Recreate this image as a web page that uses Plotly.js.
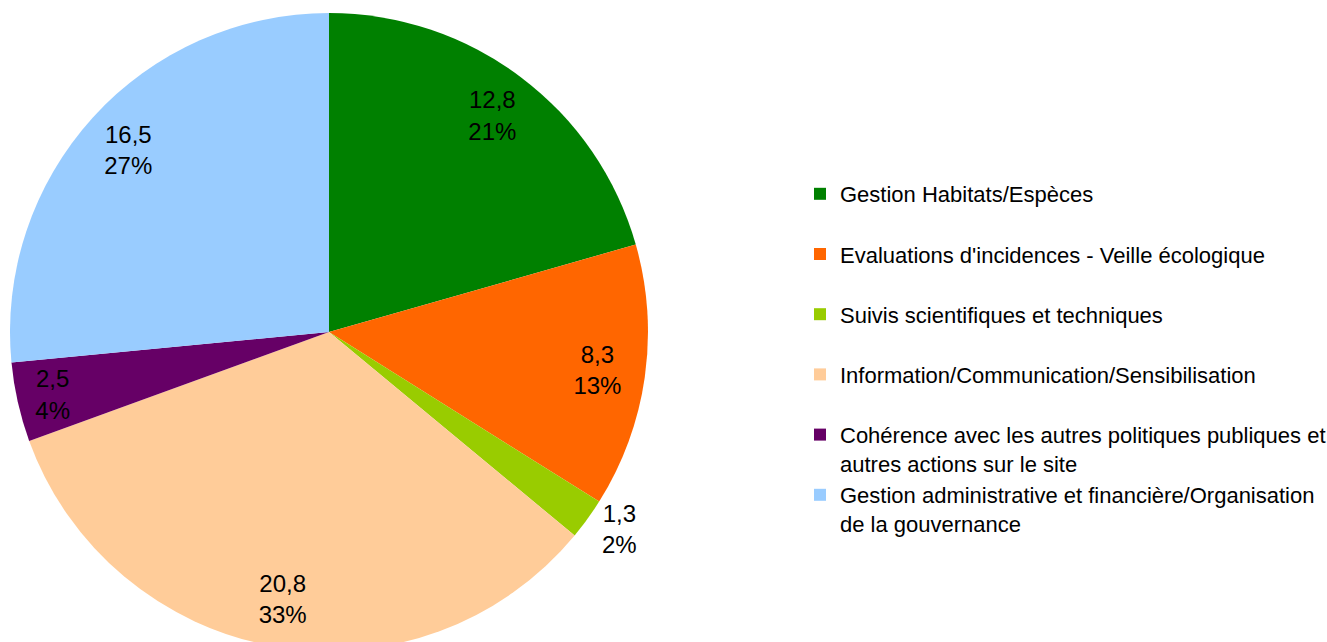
<!DOCTYPE html>
<html>
<head>
<meta charset="utf-8">
<script src="https://cdn.plot.ly/plotly-3.0.1.min.js"></script>
<style>
html,body{margin:0;padding:0;overflow:hidden;background:#fff;}
#chart{width:1327px;height:664px;}
</style>
</head>
<body>
<div id="chart"></div>
<script>
var categories = [
  "Gestion Habitats/Espèces",
  "Evaluations d'incidences - Veille écologique",
  "Suivis scientifiques et techniques",
  "Information/Communication/Sensibilisation",
  "Cohérence avec les autres politiques publiques et<br>autres actions sur le site",
  "Gestion administrative et financière/Organisation<br>de la gouvernance"
];
var values = [12.8, 8.3, 1.3, 20.8, 2.5, 16.5];
var colors = ["#008000", "#FF6600", "#99CC00", "#FFCC99", "#660066", "#99CCFF"];
var textPositions = ["inside", "inside", "outside", "inside", "inside", "inside"];

// legend labels: single-line entries padded to two lines for even spacing
var legendLabels = categories.map(function (c) {
  return c.indexOf("<br>") >= 0 ? c : c + "<br> ";
});

var W = 1327, H = 664;
var domainX = [10 / W, 648 / W];
var domainY = [13 / H, 651 / H];
var FONT = "Liberation Sans, Arial, sans-serif";

var pie = {
  type: "pie",
  labels: legendLabels,
  values: values,
  sort: false,
  direction: "clockwise",
  rotation: 0,
  marker: { colors: colors, line: { width: 0 } },
  textinfo: "none",
  hoverinfo: "label+value+percent",
  domain: { x: domainX, y: domainY }
};

var labelsRing = {
  type: "pie",
  labels: legendLabels,
  values: values,
  sort: false,
  direction: "clockwise",
  rotation: 0,
  hole: 0.7,
  showlegend: false,
  hoverinfo: "skip",
  marker: { colors: colors.map(function () { return "rgba(0,0,0,0)"; }), line: { width: 0 } },
  texttemplate: "%{value:.1f}<br>%{percent:.0%}",
  textposition: textPositions,
  insidetextorientation: "horizontal",
  textfont: { family: FONT, size: 24, color: "#000" },
  insidetextfont: { family: FONT, size: 24, color: "#000" },
  outsidetextfont: { family: FONT, size: 24, color: "#000" },
  domain: { x: domainX, y: domainY }
};

var layout = {
  width: W,
  height: H,
  margin: { l: 0, r: 0, t: 0, b: 0, autoexpand: false },
  separators: ", ",
  paper_bgcolor: "#fff",
  showlegend: true,
  legend: {
    x: 800 / W,
    xanchor: "left",
    y: 1 - 173 / H,
    yanchor: "top",
    valign: "top",
    font: { family: FONT, size: 22, color: "#000" },
    bgcolor: "rgba(0,0,0,0)"
  }
};

Plotly.newPlot("chart", [pie, labelsRing], layout, { displayModeBar: false, staticPlot: true });
</script>
</body>
</html>
